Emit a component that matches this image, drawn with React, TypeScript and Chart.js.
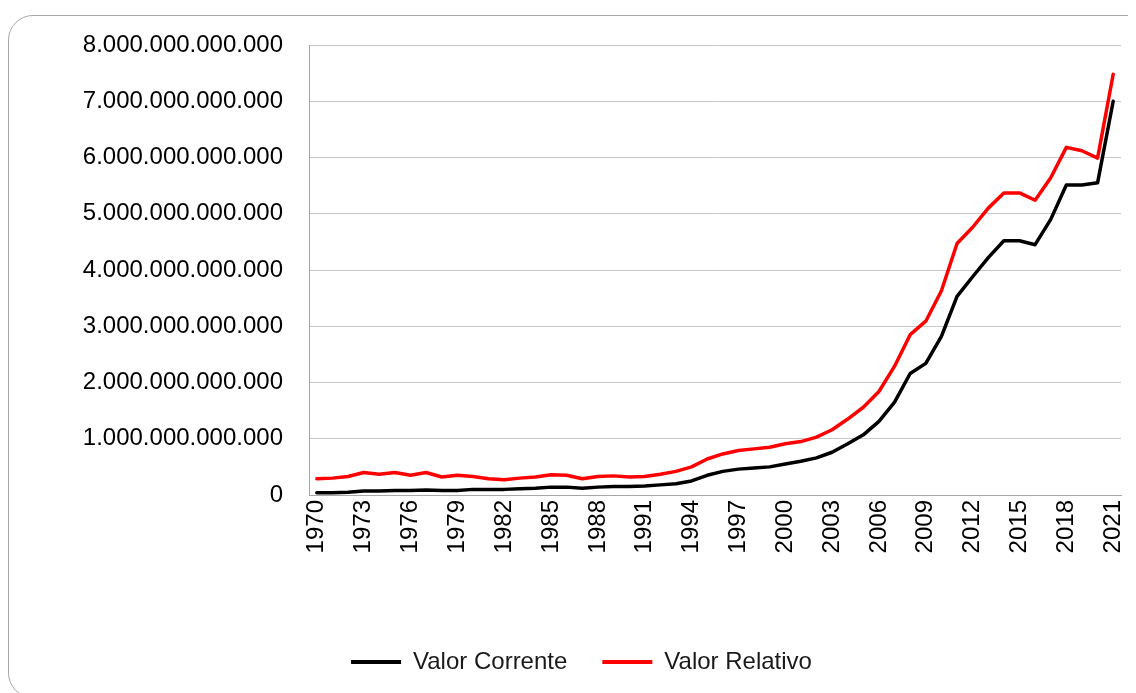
import React, { useEffect, useRef } from "react";
import { Chart, registerables } from "chart.js";

Chart.register(...registerables);

const years = [
  "1970", "1971", "1972", "1973", "1974", "1975", "1976", "1977", "1978", "1979",
  "1980", "1981", "1982", "1983", "1984", "1985", "1986", "1987", "1988", "1989",
  "1990", "1991", "1992", "1993", "1994", "1995", "1996", "1997", "1998", "1999",
  "2000", "2001", "2002", "2003", "2004", "2005", "2006", "2007", "2008", "2009",
  "2010", "2011", "2012", "2013", "2014", "2015", "2016", "2017", "2018", "2019",
  "2020", "2021",
];

const shownYearLabels = [
  "1970", "1973", "1976", "1979", "1982", "1985", "1988", "1991", "1994",
  "1997", "2000", "2003", "2006", "2009", "2012", "2015", "2018", "2021",
];

const valorCorrente = [
  0.04e12, 0.04e12, 0.05e12, 0.07e12, 0.07e12, 0.08e12, 0.08e12, 0.09e12, 0.08e12, 0.08e12,
  0.10e12, 0.10e12, 0.10e12, 0.11e12, 0.12e12, 0.14e12, 0.14e12, 0.12e12, 0.14e12, 0.15e12,
  0.15e12, 0.16e12, 0.18e12, 0.20e12, 0.25e12, 0.35e12, 0.42e12, 0.46e12, 0.48e12, 0.50e12,
  0.55e12, 0.60e12, 0.66e12, 0.76e12, 0.91e12, 1.07e12, 1.31e12, 1.65e12, 2.16e12, 2.34e12,
  2.82e12, 3.53e12, 3.88e12, 4.22e12, 4.52e12, 4.52e12, 4.45e12, 4.90e12, 5.51e12, 5.51e12,
  5.55e12, 7.00e12,
];

const valorRelativo = [
  0.29e12, 0.30e12, 0.33e12, 0.40e12, 0.37e12, 0.40e12, 0.35e12, 0.40e12, 0.32e12, 0.35e12,
  0.33e12, 0.29e12, 0.27e12, 0.30e12, 0.32e12, 0.36e12, 0.35e12, 0.29e12, 0.33e12, 0.34e12,
  0.32e12, 0.33e12, 0.37e12, 0.42e12, 0.50e12, 0.64e12, 0.73e12, 0.79e12, 0.82e12, 0.85e12,
  0.91e12, 0.95e12, 1.03e12, 1.16e12, 1.35e12, 1.56e12, 1.84e12, 2.29e12, 2.85e12, 3.09e12,
  3.63e12, 4.47e12, 4.76e12, 5.10e12, 5.37e12, 5.37e12, 5.24e12, 5.64e12, 6.18e12, 6.12e12,
  5.99e12, 7.48e12,
];

const seriesNames = ["Valor Corrente", "Valor Relativo"];
const seriesColors = ["#000000", "#ff0000"];

const yMin = 0;
const yMax = 8e12;
const yStep = 1e12;

const FONT = "'Liberation Sans', Arial, sans-serif";

function formatThousands(v: number): string {
  return String(Math.round(v)).replace(/\B(?=(\d{3})+(?!\d))/g, ".");
}

function zeroPadding(scale: any) {
  scale.paddingLeft = 0;
  scale.paddingRight = 0;
  scale.paddingTop = 0;
  scale.paddingBottom = 0;
}

export default function App() {
  const canvasRef = useRef<HTMLCanvasElement | null>(null);

  useEffect(() => {
    const canvas = canvasRef.current;
    if (!canvas) return;
    const chart = new Chart(canvas, {
      type: "line",
      data: {
        labels: years,
        datasets: [
          {
            label: seriesNames[0],
            data: valorCorrente,
            borderColor: seriesColors[0],
            backgroundColor: seriesColors[0],
            borderWidth: 3.5,
            pointRadius: 0,
            tension: 0,
            borderJoinStyle: "round",
            borderCapStyle: "round",
          },
          {
            label: seriesNames[1],
            data: valorRelativo,
            borderColor: seriesColors[1],
            backgroundColor: seriesColors[1],
            borderWidth: 3.5,
            pointRadius: 0,
            tension: 0,
            borderJoinStyle: "round",
            borderCapStyle: "round",
          },
        ],
      },
      options: {
        responsive: false,
        animation: false,
        devicePixelRatio: 1,
        layout: { padding: { left: 34, right: 15, top: 37, bottom: 9 } },
        plugins: {
          tooltip: { enabled: false },
          title: { display: false },
          legend: {
            display: true,
            position: "bottom",
            labels: {
              font: { family: FONT, size: 24 },
              color: "#1a1a1a",
              boxWidth: 50,
              boxHeight: 4,
              padding: 35,
              generateLabels: (c: any) =>
                Chart.defaults.plugins.legend.labels
                  .generateLabels(c)
                  .map((it: any) => ({ ...it, lineWidth: 0 })),
            },
          },
        },
        scales: {
          x: {
            offset: true,
            grid: { display: false, drawTicks: false },
            border: { display: true, color: "#a6a6a6", width: 1 },
            ticks: {
              autoSkip: false,
              minRotation: 90,
              maxRotation: 90,
              padding: 5,
              color: "#000000",
              font: { family: FONT, size: 24 },
              callback: (_v: any, idx: number) =>
                shownYearLabels.includes(years[idx]) ? years[idx] : null,
            },
            afterFit: (scale: any) => {
              scale.height = 120;
              zeroPadding(scale);
            },
          },
          y: {
            min: yMin,
            max: yMax,
            grid: { color: "#c8c8c8", lineWidth: 1, drawTicks: false },
            border: { display: true, color: "#a6a6a6", width: 1 },
            ticks: {
              stepSize: yStep,
              padding: 26,
              color: "#000000",
              font: { family: FONT, size: 24 },
              callback: (v: any) => formatThousands(Number(v)),
            },
            afterFit: (scale: any) => {
              scale.width = 267;
              zeroPadding(scale);
            },
          },
        },
      },
    });
    return () => chart.destroy();
  }, []);

  return (
    <div style={{ position: "relative", width: 1128, height: 685, overflow: "hidden" }}>
      <div
        style={{
          position: "absolute",
          left: 0,
          top: 7,
          width: 1200,
          height: 683,
          border: "1px solid #a6a6a6",
          borderRadius: 25,
          boxSizing: "border-box",
        }}
      />
      <canvas
        ref={canvasRef}
        width={1128}
        height={685}
        style={{ position: "absolute", left: 0, top: 0, width: 1128, height: 685 }}
      />
    </div>
  );
}
